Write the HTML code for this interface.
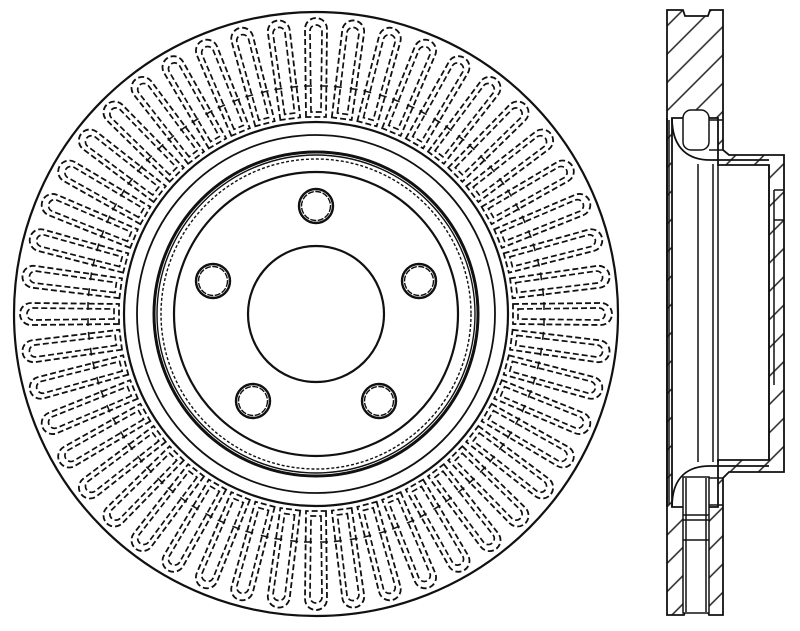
<!DOCTYPE html>
<html><head><meta charset="utf-8"><style>html,body{margin:0;padding:0;background:#fff}svg{display:block}</style></head>
<body>
<svg width="800" height="631" viewBox="0 0 800 631" xmlns="http://www.w3.org/2000/svg">
<defs>
<pattern id="h" patternUnits="userSpaceOnUse" width="20" height="20" patternTransform="rotate(45)">
<line x1="10" y1="0" x2="10" y2="20" stroke="#222" stroke-width="1.5"/>
</pattern>
<g id="vane">
<path d="M306,117 L305,29 A11,11 0 0 1 327,29 L326,117 Z" fill="none" stroke="#111" stroke-width="1.8" stroke-dasharray="6,3"/>
<path d="M311,112 L310,31 A6,6 0 0 1 322,31 L321,112 Z" fill="none" stroke="#111" stroke-width="1.7" stroke-dasharray="6,3"/>
<line x1="304" y1="86" x2="312" y2="86" stroke="#111" stroke-width="1.5"/>
<line x1="320" y1="86" x2="328" y2="86" stroke="#111" stroke-width="1.5"/>
</g>
</defs>
<g fill="none" stroke="#111">
<circle cx="316" cy="314" r="302" stroke-width="2.2"/>
<g id="vs">
<use href="#vane" transform="rotate(0 316 314)"/><use href="#vane" transform="rotate(7.5 316 314)"/><use href="#vane" transform="rotate(15 316 314)"/><use href="#vane" transform="rotate(22.5 316 314)"/><use href="#vane" transform="rotate(30 316 314)"/><use href="#vane" transform="rotate(37.5 316 314)"/><use href="#vane" transform="rotate(45 316 314)"/><use href="#vane" transform="rotate(52.5 316 314)"/><use href="#vane" transform="rotate(60 316 314)"/><use href="#vane" transform="rotate(67.5 316 314)"/><use href="#vane" transform="rotate(75 316 314)"/><use href="#vane" transform="rotate(82.5 316 314)"/>
</g>
<use href="#vs" transform="rotate(90 316 314)"/>
<use href="#vs" transform="rotate(180 316 314)"/>
<use href="#vs" transform="rotate(270 316 314)"/>
<circle cx="316" cy="314" r="192" stroke-width="2.2"/>
<circle cx="316" cy="314" r="179" stroke-width="1.8"/>
<circle cx="316" cy="314" r="162" stroke-width="3"/>
<circle cx="316" cy="314" r="159" stroke-width="1.4"/>
<circle cx="316" cy="314" r="155" stroke-width="1.4" stroke-dasharray="3,2"/>
<circle cx="316" cy="314" r="142" stroke-width="2.2"/>
<circle cx="316" cy="314" r="68" stroke-width="2.2"/>
<g stroke-width="2.4">
<circle cx="316" cy="206" r="17"/><circle cx="316" cy="206" r="14.5" stroke-width="1.4" stroke-dasharray="6,1.5"/>
<circle cx="213" cy="281" r="17"/><circle cx="213" cy="281" r="14.5" stroke-width="1.4" stroke-dasharray="6,1.5"/>
<circle cx="419" cy="281" r="17"/><circle cx="419" cy="281" r="14.5" stroke-width="1.4" stroke-dasharray="6,1.5"/>
<circle cx="253" cy="401" r="17"/><circle cx="253" cy="401" r="14.5" stroke-width="1.4" stroke-dasharray="6,1.5"/>
<circle cx="379" cy="401" r="17"/><circle cx="379" cy="401" r="14.5" stroke-width="1.4" stroke-dasharray="6,1.5"/>
</g>
</g>
<!-- side view -->
<g stroke="#111" stroke-width="1.8">
<path d="M667,10 H683 L685,16 H708 L710,10 H723 V150 L729,155 H784 V472 H729 L723,478 V615 H709 L707,608 H686 L684,615 H667 Z" fill="url(#h)"/>
<path d="M672,118 H718 V165 H769 V460 H718 V507 H672 Z" fill="#fff"/>
<path d="M667,118 V507" fill="none"/>
<path d="M672,118 C672,150 690,160 710,160 H769" fill="none"/>
<path d="M672,507 C672,475 690,466 710,466 H769" fill="none"/>
<g fill="none" stroke-width="1.5">
<line x1="669" y1="120" x2="669" y2="505"/>
<line x1="698" y1="164" x2="698" y2="462"/>
<line x1="713" y1="164" x2="713" y2="462"/>
<line x1="718" y1="164" x2="718" y2="462"/>
<line x1="769" y1="165" x2="769" y2="460"/>
<line x1="774" y1="190" x2="774" y2="385"/>
<rect x="683" y="110" width="26" height="40" rx="8" fill="#fff"/>
<rect x="683" y="477" width="26" height="136" fill="#fff"/>
<line x1="686" y1="478" x2="686" y2="612"/><line x1="706" y1="478" x2="706" y2="612"/>
<line x1="683" y1="540" x2="709" y2="540"/>
<line x1="683" y1="515" x2="709" y2="515"/><line x1="683" y1="520" x2="709" y2="520"/>
<line x1="709" y1="478" x2="723" y2="478"/><line x1="709" y1="505" x2="723" y2="505"/>
<line x1="709" y1="120" x2="723" y2="120"/><line x1="709" y1="150" x2="723" y2="150"/>
<line x1="774" y1="190" x2="784" y2="190"/><line x1="774" y1="220" x2="784" y2="220"/>
</g>
</g>
</svg>
</body></html>
